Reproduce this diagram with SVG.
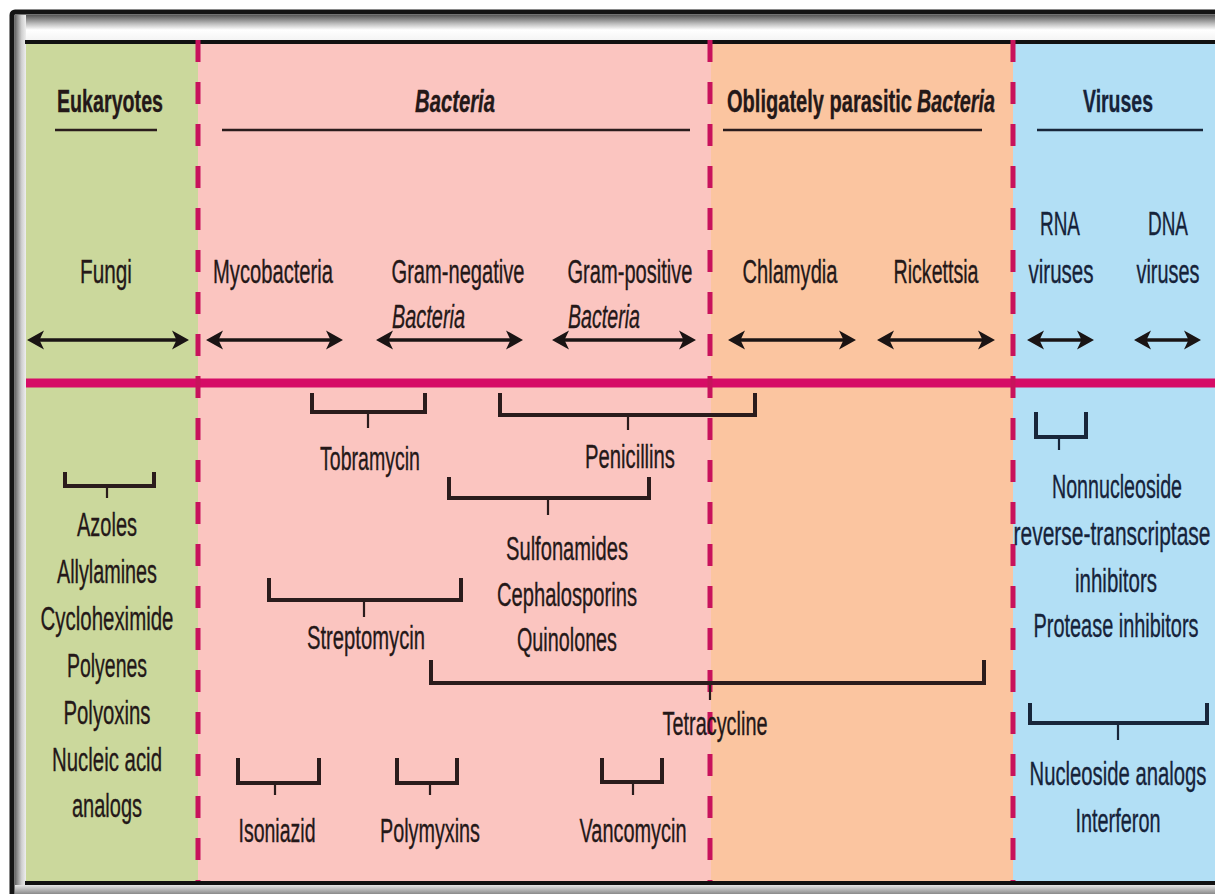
<svg xmlns="http://www.w3.org/2000/svg" width="1215" height="894" viewBox="0 0 1215 894">
<style>
text{font-family:"Liberation Sans",Arial,sans-serif;fill:#241818;stroke:#241818;stroke-width:0.35;text-anchor:middle}
.h{font-size:31px;font-weight:bold}
.l{font-size:33px}
.m{font-size:34px}
.i{font-style:italic}
.v text{fill:#16233a;stroke:#16233a}
.ul{stroke:#2a1c1c;stroke-width:2.5;fill:none}
.br{stroke:#2a1c1c;stroke-width:4;fill:none;stroke-linejoin:miter}
.tk{stroke:#2a1c1c;stroke-width:2.2;fill:none}
.vb{stroke:#18263a}
.ar{stroke:#1a1414;stroke-width:3.5;fill:none;marker-start:url(#ah);marker-end:url(#ah)}
.dash{stroke:#c8125c;stroke-width:5;stroke-dasharray:22 20;fill:none}
</style>
<defs>
<marker id="ah" viewBox="0 0 17 21" refX="7" refY="10.5" markerWidth="17" markerHeight="21" markerUnits="userSpaceOnUse" orient="auto-start-reverse">
<path d="M0,1 L17,10.5 L0,20 L4.5,10.5 Z" fill="#1a1414"/>
</marker>
<linearGradient id="topg" x1="0" y1="0" x2="0" y2="1">
<stop offset="0" stop-color="#555"/>
<stop offset="0.35" stop-color="#bdbdbd"/>
<stop offset="0.6" stop-color="#ffffff"/>
<stop offset="1" stop-color="#f4f4f4"/>
</linearGradient>
<linearGradient id="leftg" x1="0" y1="0" x2="1" y2="0">
<stop offset="0" stop-color="#666"/>
<stop offset="0.6" stop-color="#cfcfcf"/>
<stop offset="1" stop-color="#eeeeee"/>
</linearGradient>
<linearGradient id="botg" x1="0" y1="0" x2="0" y2="1">
<stop offset="0" stop-color="#e6e6e6"/>
<stop offset="1" stop-color="#8a8a8a"/>
</linearGradient>
</defs>

<g id="frame">
<rect x="0" y="0" width="1215" height="894" fill="#ffffff"/>
<rect x="12" y="12" width="1215" height="890" rx="3" fill="#d0d0d0" stroke="#141414" stroke-width="5"/>
<rect x="15" y="15" width="1200" height="25" fill="url(#topg)"/>
<rect x="15" y="15" width="11" height="870" fill="url(#leftg)"/>
<rect x="15" y="885" width="1200" height="9" fill="url(#botg)"/>
<rect x="25" y="40" width="1190" height="4" fill="#111"/>
<rect x="25" y="881" width="1190" height="4" fill="#111"/>
</g>

<g id="panels">
<rect x="26" y="44" width="172" height="837" fill="#cbd89c"/>
<rect x="198" y="44" width="513" height="837" fill="#fbc5c0"/>
<rect x="711" y="44" width="302" height="837" fill="#fbc5a0"/>
<rect x="1013" y="44" width="202" height="837" fill="#b2dff5"/>
<line x1="26" y1="383" x2="1215" y2="383" stroke="#d60c66" stroke-width="9"/>
<line class="dash" x1="198" y1="40" x2="198" y2="881"/>
<line class="dash" x1="710" y1="40" x2="710" y2="881"/>
<line class="dash" x1="1013" y1="40" x2="1013" y2="881"/>
</g>

<g id="header-eukaryotes">
<text class="h" x="110" y="112" textLength="106" lengthAdjust="spacingAndGlyphs">Eukaryotes</text>
<line class="ul" x1="55" y1="130" x2="157" y2="130"/>
</g>
<g id="header-bacteria">
<text class="h i" x="455" y="112" textLength="80" lengthAdjust="spacingAndGlyphs">Bacteria</text>
<line class="ul" x1="222" y1="130" x2="690" y2="130"/>
</g>
<g id="header-obligate">
<text class="h" x="819.5" y="112" textLength="185" lengthAdjust="spacingAndGlyphs">Obligately parasitic</text>
<text class="h i" x="956" y="112" textLength="78" lengthAdjust="spacingAndGlyphs">Bacteria</text>
<line class="ul" x1="723" y1="130" x2="982" y2="130"/>
</g>
<g id="header-viruses" class="v">
<text class="h" x="1118" y="112" textLength="70" lengthAdjust="spacingAndGlyphs">Viruses</text>
<line class="ul vb" x1="1037" y1="130" x2="1203" y2="130"/>
</g>

<g id="fungi"><text class="l" x="106" y="283" textLength="52" lengthAdjust="spacingAndGlyphs">Fungi</text></g>
<g id="mycobacteria"><text class="l" x="273" y="283" textLength="120" lengthAdjust="spacingAndGlyphs">Mycobacteria</text></g>
<g id="gram-negative">
<text class="l" x="458" y="283" textLength="133" lengthAdjust="spacingAndGlyphs">Gram-negative</text>
<text class="l i" x="428.5" y="328" textLength="73" lengthAdjust="spacingAndGlyphs">Bacteria</text>
</g>
<g id="gram-positive">
<text class="l" x="630" y="283" textLength="125" lengthAdjust="spacingAndGlyphs">Gram-positive</text>
<text class="l i" x="604" y="328" textLength="72" lengthAdjust="spacingAndGlyphs">Bacteria</text>
</g>
<g id="chlamydia"><text class="l" x="790" y="283" textLength="95" lengthAdjust="spacingAndGlyphs">Chlamydia</text></g>
<g id="rickettsia"><text class="l" x="936" y="283" textLength="85" lengthAdjust="spacingAndGlyphs">Rickettsia</text></g>
<g id="rna-viruses" class="v">
<text class="l" x="1060" y="235" textLength="40" lengthAdjust="spacingAndGlyphs">RNA</text>
<text class="l" x="1061" y="283" textLength="65" lengthAdjust="spacingAndGlyphs">viruses</text>
</g>
<g id="dna-viruses" class="v">
<text class="l" x="1168" y="235" textLength="40" lengthAdjust="spacingAndGlyphs">DNA</text>
<text class="l" x="1168" y="283" textLength="63" lengthAdjust="spacingAndGlyphs">viruses</text>
</g>

<g id="connectors">
<line class="ar" x1="37" y1="340" x2="179" y2="340"/>
<line class="ar" x1="216" y1="340" x2="333" y2="340"/>
<line class="ar" x1="386" y1="340" x2="513" y2="340"/>
<line class="ar" x1="562" y1="340" x2="686" y2="340"/>
<line class="ar" x1="738" y1="340" x2="846" y2="340"/>
<line class="ar" x1="887" y1="340" x2="985" y2="340"/>
<line class="ar" x1="1037" y1="340" x2="1084" y2="340"/>
<line class="ar" x1="1144" y1="340" x2="1191" y2="340"/>
</g>

<g id="antifungals">
<path class="br" d="M65,472 V486 H154 V472"/>
<line class="tk" x1="107" y1="486" x2="107" y2="498"/>
<text class="m" x="107" y="536" textLength="60" lengthAdjust="spacingAndGlyphs">Azoles</text>
<text class="m" x="107" y="583" textLength="100" lengthAdjust="spacingAndGlyphs">Allylamines</text>
<text class="m" x="107" y="630" textLength="133" lengthAdjust="spacingAndGlyphs">Cycloheximide</text>
<text class="m" x="107" y="677" textLength="80" lengthAdjust="spacingAndGlyphs">Polyenes</text>
<text class="m" x="107" y="724" textLength="87" lengthAdjust="spacingAndGlyphs">Polyoxins</text>
<text class="m" x="107" y="771" textLength="110" lengthAdjust="spacingAndGlyphs">Nucleic acid</text>
<text class="m" x="107" y="817" textLength="70" lengthAdjust="spacingAndGlyphs">analogs</text>
</g>

<g id="tobramycin">
<path class="br" d="M312,393 V412 H425 V393"/>
<line class="tk" x1="368" y1="412" x2="368" y2="428"/>
<text class="m" x="370" y="470" textLength="100" lengthAdjust="spacingAndGlyphs">Tobramycin</text>
</g>
<g id="penicillins">
<path class="br" d="M500,393 V415 H755 V393"/>
<line class="tk" x1="628" y1="415" x2="628" y2="430"/>
<text class="m" x="630" y="468" textLength="90" lengthAdjust="spacingAndGlyphs">Penicillins</text>
</g>
<g id="sulfonamides">
<path class="br" d="M449,477 V498 H649 V477"/>
<line class="tk" x1="548" y1="498" x2="548" y2="515"/>
<text class="m" x="567" y="560" textLength="122" lengthAdjust="spacingAndGlyphs">Sulfonamides</text>
<text class="m" x="567" y="606" textLength="140" lengthAdjust="spacingAndGlyphs">Cephalosporins</text>
<text class="m" x="567" y="651" textLength="100" lengthAdjust="spacingAndGlyphs">Quinolones</text>
</g>
<g id="streptomycin">
<path class="br" d="M269,578 V600 H461 V578"/>
<line class="tk" x1="364" y1="600" x2="364" y2="617"/>
<text class="m" x="366" y="649" textLength="118" lengthAdjust="spacingAndGlyphs">Streptomycin</text>
</g>
<g id="tetracycline">
<path class="br" d="M431,660 V683 H984 V660"/>
<line class="tk" x1="710" y1="683" x2="710" y2="700"/>
<text class="m" x="715" y="735" textLength="105" lengthAdjust="spacingAndGlyphs">Tetracycline</text>
</g>
<g id="isoniazid">
<path class="br" d="M238,758 V783 H319 V758"/>
<line class="tk" x1="275" y1="783" x2="275" y2="795"/>
<text class="m" x="277" y="842" textLength="77" lengthAdjust="spacingAndGlyphs">Isoniazid</text>
</g>
<g id="polymyxins">
<path class="br" d="M397,758 V783 H457 V758"/>
<line class="tk" x1="430" y1="783" x2="430" y2="795"/>
<text class="m" x="430" y="842" textLength="100" lengthAdjust="spacingAndGlyphs">Polymyxins</text>
</g>
<g id="vancomycin">
<path class="br" d="M602,758 V782 H662 V758"/>
<line class="tk" x1="633" y1="782" x2="633" y2="795"/>
<text class="m" x="633" y="842" textLength="107" lengthAdjust="spacingAndGlyphs">Vancomycin</text>
</g>
<g id="nnrti" class="v">
<path class="br vb" d="M1036,412 V437 H1086 V412"/>
<line class="tk vb" x1="1059" y1="437" x2="1059" y2="450"/>
<text class="m" x="1117" y="498" textLength="130" lengthAdjust="spacingAndGlyphs">Nonnucleoside</text>
<text class="m" x="1112" y="545" textLength="197" lengthAdjust="spacingAndGlyphs">reverse-transcriptase</text>
<text class="m" x="1116" y="592" textLength="82" lengthAdjust="spacingAndGlyphs">inhibitors</text>
<text class="m" x="1116" y="637" textLength="165" lengthAdjust="spacingAndGlyphs">Protease inhibitors</text>
</g>
<g id="nucleoside" class="v">
<path class="br vb" d="M1030,703 V723 H1207 V703"/>
<line class="tk vb" x1="1118" y1="723" x2="1118" y2="740"/>
<text class="m" x="1118" y="785" textLength="177" lengthAdjust="spacingAndGlyphs">Nucleoside analogs</text>
<text class="m" x="1118" y="832" textLength="85" lengthAdjust="spacingAndGlyphs">Interferon</text>
</g>
</svg>
